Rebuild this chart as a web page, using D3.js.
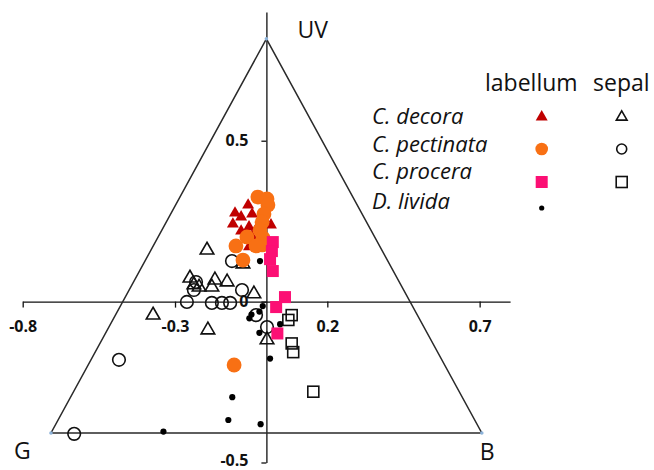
<!DOCTYPE html>
<html>
<head>
    <meta charset="UTF-8">
    <script src="https://d3js.org/d3.v7.min.js"></script>
    <style>
        body { margin: 0; background: #fff; }
        text { font-family: "Open Sans", sans-serif; }
    </style>
</head>

<body>
    <div id="chart"></div>
    <script>
     // Colour triangle: G / B / UV vertices at unit distance from the origin
     const vertices = [
         {name: "G",  x: -0.7071, y: -0.4082},
         {name: "B",  x: 0.7071,  y: -0.4082},
         {name: "UV", x: 0,       y: 0.8165}
     ];
     const xTicks = [-0.8, -0.3, 0.2, 0.7];
     const yTicks = [0.5, 0, -0.5];

     // [x, y] for each group
     const decoraLab = [[-0.060, 0.300], [-0.103, 0.275], [-0.083, 0.263], [-0.047, 0.272],
                        [-0.110, 0.241], [-0.057, 0.232], [-0.083, 0.219], [0.015, 0.238],
                        [-0.047, 0.201], [-0.057, 0.170], [-0.031, 0.229]];
     const pectinataLab = [[-0.028, 0.325], [0.002, 0.319], [0.005, 0.300], [-0.008, 0.272],
                           [-0.014, 0.247], [-0.021, 0.222], [-0.011, 0.198], [-0.014, 0.176],
                           [-0.064, 0.201], [-0.100, 0.173], [-0.077, 0.129], [-0.106, -0.197],
                           [-0.034, 0.173]];
     const proceraLab = [[0.021, 0.185], [0.018, 0.157], [0.012, 0.132], [0.021, 0.095],
                         [0.061, 0.014], [0.032, -0.017], [0.036, -0.099]];
     const lividaLab = [[-0.021, 0.126], [-0.012, -0.014], [-0.023, -0.031], [-0.056, -0.052],
                        [-0.049, -0.040], [-0.023, -0.097], [0.045, -0.070], [0.012, -0.177],
                        [-0.112, -0.297], [-0.125, -0.368], [-0.019, -0.381], [-0.338, -0.404]];
     const decoraSep = [[-0.195, 0.160], [-0.251, 0.073], [-0.238, 0.052], [-0.221, 0.045],
                        [-0.169, 0.067], [-0.179, 0.045], [-0.129, 0.061], [-0.077, 0.117],
                        [-0.041, 0.024], [-0.192, -0.088], [0.002, -0.119], [-0.372, -0.042]];
     const pectinataSep = [[-0.113, 0.126], [-0.231, 0.061], [-0.080, 0.036], [-0.261, -0.001],
                           [-0.179, -0.004], [-0.146, -0.004], [-0.119, -0.004], [-0.034, -0.042],
                           [0.002, -0.079], [-0.484, -0.181], [-0.631, -0.411], [-0.238, 0.036]];
     const proceraSep = [[0.083, -0.042], [0.072, -0.057], [0.083, -0.130], [0.088, -0.157],
                         [0.154, -0.280]];

     const species = ["C. decora", "C. pectinata", "C. procera", "D. livida"];

     const width = 654;
     const height = 470;

     let svg = d3.select("#chart").append("svg")
                 .attr("width", width)
                 .attr("height", height);

     let x = d3.scaleLinear().domain([-0.8, 0.8]).range([22.7, 510.1]);
     let y = d3.scaleLinear().domain([-0.5, 0.9]).range([462.5, 12]);

     // Axes through the origin
     let xAxis = svg.append("g")
                    .attr("transform", `translate(0,${y(0)})`)
                    .call(d3.axisBottom(x).tickValues(xTicks).tickSize(6).tickSizeOuter(0)
                            .tickFormat(d => d));
     xAxis.select(".domain").attr("stroke", "#111").attr("stroke-width", 1.3);
     xAxis.selectAll(".tick line").attr("stroke", "#111").attr("stroke-width", 1.3);
     xAxis.selectAll(".tick text")
          .attr("y", 19)
          .style("font-family", "Open Sans")
          .style("font-size", "16px")
          .style("font-weight", "bold")
          .attr("fill", "#111");

     let yAxis = svg.append("g")
                    .attr("transform", `translate(${x(0)},0)`)
                    .call(d3.axisLeft(y).tickValues(yTicks).tickSize(5).tickSizeOuter(0)
                            .tickFormat(d => d));
     yAxis.select(".domain").attr("stroke", "#111").attr("stroke-width", 1.3);
     yAxis.selectAll(".tick line").attr("stroke", "#111").attr("stroke-width", 1.3);
     yAxis.selectAll(".tick text")
          .attr("x", -18)
          .attr("dy", d => d < 0 ? "0.2em" : "0.32em")
          .style("font-family", "Open Sans")
          .style("font-size", "16px")
          .style("font-weight", "bold")
          .attr("fill", "#111");

     // Triangle
     svg.append("path")
        .attr("d", d3.line().x(d => x(d.x)).y(d => y(d.y))(vertices) + "Z")
        .attr("fill", "none")
        .attr("stroke", "#2a2a2a")
        .attr("stroke-width", 1.5);
     svg.selectAll("circle.vertex")
        .data(vertices)
        .enter()
        .append("circle")
        .attr("class", "vertex")
        .attr("cx", d => x(d.x))
        .attr("cy", d => y(d.y))
        .attr("r", 1.8)
        .attr("fill", "#8db3da");

     const vLabels = [
         {t: "G",  dx: -37, dy: 26},
         {t: "B",  dx: -2,  dy: 27},
         {t: "UV", dx: 31,  dy: -1}
     ];
     svg.selectAll("text.vlabel")
        .data(vertices)
        .enter()
        .append("text")
        .attr("class", "vlabel")
        .attr("x", (d, i) => x(d.x) + vLabels[i].dx)
        .attr("y", (d, i) => y(d.y) + vLabels[i].dy)
        .style("font-size", "23px")
        .attr("fill", "#111")
        .text((d, i) => vLabels[i].t);

     // Marker makers
     function triangle(g, data, size, fill, stroke) {
         g.selectAll(null)
          .data(data)
          .enter()
          .append("path")
          .attr("d", d3.symbol().type(d3.symbolTriangle).size(size))
          .attr("transform", d => `translate(${x(d[0])},${y(d[1])})`)
          .attr("fill", fill)
          .attr("stroke", stroke)
          .attr("stroke-width", stroke == "none" ? 0 : 1.6);
     }
     function circle(g, data, r, fill, stroke) {
         g.selectAll(null)
          .data(data)
          .enter()
          .append("circle")
          .attr("cx", d => x(d[0]))
          .attr("cy", d => y(d[1]))
          .attr("r", r)
          .attr("fill", fill)
          .attr("stroke", stroke)
          .attr("stroke-width", stroke == "none" ? 0 : 1.6);
     }
     function square(g, data, s, fill, stroke) {
         g.selectAll(null)
          .data(data)
          .enter()
          .append("rect")
          .attr("x", d => x(d[0]) - s / 2)
          .attr("y", d => y(d[1]) - s / 2)
          .attr("width", s)
          .attr("height", s)
          .attr("fill", fill)
          .attr("stroke", stroke)
          .attr("stroke-width", stroke == "none" ? 0 : 1.6);
     }

     let pts = svg.append("g");
     circle(pts, pectinataSep, 6.3, "none", "#111");
     triangle(pts, decoraSep, 80, "none", "#111");
     square(pts, proceraSep, 11, "none", "#111");
     triangle(pts, decoraLab, 62, "#c00000", "none");
     circle(pts, pectinataLab, 7.4, "#f87014", "none");
     square(pts, proceraLab, 12, "#fc0f74", "none");
     circle(pts, lividaLab, 3.1, "#000", "none");

     // Legend
     let legend = svg.append("g");
     legend.append("text").attr("x", 485).attr("y", 91).style("font-size", "23px")
           .attr("fill", "#111").text("labellum");
     legend.append("text").attr("x", 593).attr("y", 91).style("font-size", "23px")
           .attr("fill", "#111").text("sepal");
     const rowY = [117, 149, 182, 208];
     const textY = [124, 152, 179, 209];
     legend.selectAll("text.sp")
           .data(species)
           .enter()
           .append("text")
           .attr("class", "sp")
           .attr("x", 372)
           .attr("y", (d, i) => textY[i])
           .style("font-size", "22px")
           .style("font-style", "italic")
           .attr("fill", "#111")
           .text(d => d);

     let lx = x.invert(541.7), sx = x.invert(621.7);
     triangle(legend, [[lx, y.invert(rowY[0])]], 62, "#c00000", "none");
     circle(legend, [[lx, y.invert(rowY[1])]], 6.3, "#f87014", "none");
     square(legend, [[lx, y.invert(rowY[2])]], 12, "#fc0f74", "none");
     circle(legend, [[lx, y.invert(rowY[3])]], 2.6, "#000", "none");
     triangle(legend, [[sx, y.invert(rowY[0])]], 50, "none", "#111");
     circle(legend, [[sx, y.invert(rowY[1])]], 5, "none", "#111");
     square(legend, [[sx, y.invert(rowY[2])]], 11, "none", "#111");
    </script>
</body>

</html>
